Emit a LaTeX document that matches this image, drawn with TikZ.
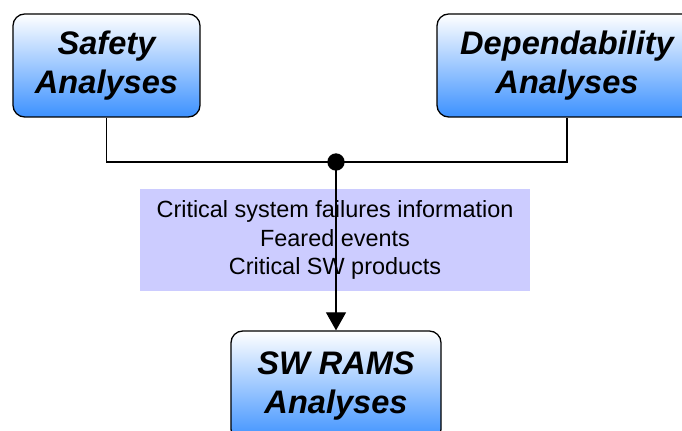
\documentclass[tikz,border=0pt]{standalone}
\usepackage{fontspec}
\setmainfont{Liberation Sans}
\usetikzlibrary{arrows.meta,positioning,shadings}
\definecolor{skyblue}{RGB}{60,145,255}
\definecolor{lilac}{RGB}{204,204,255}
\definecolor{ink}{RGB}{0,0,0}
\tikzset{
  >={Triangle[length=5.4mm,width=6mm]},
  analysis/.style={draw=ink,line width=1.1pt,rounded corners=10pt,
    top color=white,bottom color=skyblue,align=center,
    font=\fontsize{27.8}{34}\selectfont\bfseries\itshape},
  infobox/.style={fill=lilac,minimum width=11.7cm,minimum height=3.06cm,
    align=center,font=\fontsize{20}{24}\selectfont},
  link/.style={draw=ink,line width=0.9pt},
}

\begin{document}
\begin{tikzpicture}[x=0.03cm,y=-0.03cm]
  \useasboundingbox (0,0) rectangle (682,431);
  % the three analysis boxes
  \node[analysis,minimum width=5.61cm,minimum height=3.09cm] (safety) at (106.5,65.5) {Safety\\Analyses};
  \node[analysis,minimum width=7.8cm,minimum height=3.09cm] (depend) at (567,65.5) {Dependability\\Analyses};
  \node[analysis,minimum width=6.3cm,minimum height=3.3cm] (rams) at (336,386) {SW RAMS\\Analyses};
  % information exchanged
  \node[infobox] (info) at (335,240) {Critical system failures information\\Feared events\\Critical SW products};
  \coordinate (join) at (336,162);
  \draw[link] (safety.south) |- (join) -| (depend.south);
  \fill[ink] (join) circle (2.6mm);
  \draw[link,->] (join) -- (rams.north);
\end{tikzpicture}
\end{document}
